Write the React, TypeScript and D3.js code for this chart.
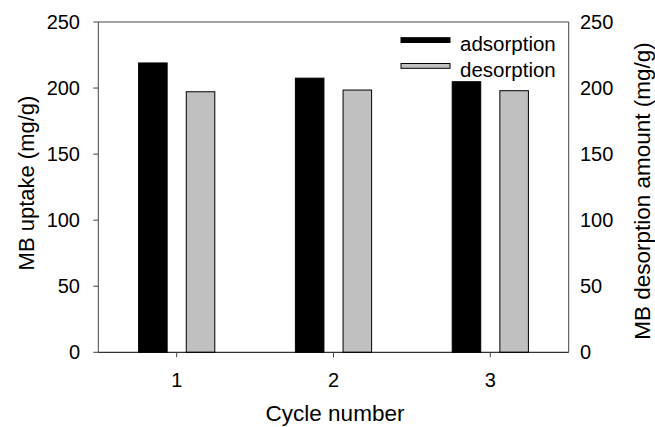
import React from "react";
import * as d3 from "d3";

const categories = [1, 2, 3];
const adsorption = [219, 207.5, 204.8];
const desorption = [197.2, 198.5, 198];
const yTicks = [0, 50, 100, 150, 200, 250];
const seriesNames = ["adsorption", "desorption"];

const W = 655;
const H = 427;
const left = 98.3;
const right = 568.7;
const top = 22;
const bottom = 352.3;
const FONT = "'Liberation Sans', Arial, sans-serif";

export default function App() {
  const x = d3.scaleLinear().domain([0.5, 3.5]).range([left, right]);
  const y = d3.scaleLinear().domain([0, 250]).range([bottom, top]);
  const bw = 0.182;
  const off = 0.152;
  const frame = "#444";

  return (
    <svg
      width={W}
      height={H}
      style={{ position: "absolute", left: 0, top: 0, background: "#fff" }}
      fontFamily={FONT}
    >
      <rect x={0} y={0} width={W} height={H} fill="#fff" />
      {categories.map((c, i) => (
        <g key={c}>
          <rect
            x={x(c - off - bw / 2)}
            y={y(adsorption[i])}
            width={x(bw) - x(0)}
            height={y(0) - y(adsorption[i])}
            fill="#000"
            stroke="#000"
            strokeWidth={1}
          />
          <rect
            x={x(c + off - bw / 2)}
            y={y(desorption[i])}
            width={x(bw) - x(0)}
            height={y(0) - y(desorption[i])}
            fill="#c0c0c0"
            stroke="#000"
            strokeWidth={1}
          />
        </g>
      ))}
      {/* frame */}
      <line x1={left} x2={right} y1={top} y2={top} stroke={frame} strokeWidth={1} />
      <line x1={left} x2={left} y1={top} y2={bottom} stroke={frame} strokeWidth={1} />
      <line x1={right} x2={right} y1={top} y2={bottom} stroke={frame} strokeWidth={1} />
      <line x1={left} x2={right} y1={bottom} y2={bottom} stroke="#000" strokeWidth={1} />
      {/* y ticks */}
      {yTicks.map((t) => (
        <g key={"l" + t}>
          <line x1={left - 5} x2={left} y1={y(t)} y2={y(t)} stroke={frame} />
          <text x={80} y={y(t) + 7} textAnchor="end" fontSize={20} fill="#000">
            {t}
          </text>
          <text x={580} y={y(t) + 7} textAnchor="start" fontSize={20} fill="#000">
            {t}
          </text>
        </g>
      ))}
      {/* x ticks */}
      {categories.map((c) => (
        <g key={"x" + c}>
          <line x1={x(c)} x2={x(c)} y1={bottom} y2={bottom + 5} stroke={frame} />
          <text x={x(c)} y={387} textAnchor="middle" fontSize={20} fill="#000">
            {c}
          </text>
        </g>
      ))}
      <text x={335} y={421} textAnchor="middle" fontSize={22.5} fill="#000">
        Cycle number
      </text>
      <text
        transform={`translate(34,183) rotate(-90)`}
        textAnchor="middle"
        fontSize={22}
        fill="#000"
      >
        MB uptake (mg/g)
      </text>
      <text
        transform={`translate(650,191) rotate(-90)`}
        textAnchor="middle"
        fontSize={22.5}
        fill="#000"
      >
        MB desorption amount (mg/g)
      </text>
      {/* legend */}
      <rect x={401} y={37.7} width={49} height={4.8} fill="#000" stroke="#000" />
      <rect x={401} y={63.5} width={49} height={4.8} fill="#c0c0c0" stroke="#000" />
      <text x={460} y={51} fontSize={20.5} fill="#000">
        {seriesNames[0]}
      </text>
      <text x={460} y={77} fontSize={20.5} fill="#000">
        {seriesNames[1]}
      </text>
    </svg>
  );
}
